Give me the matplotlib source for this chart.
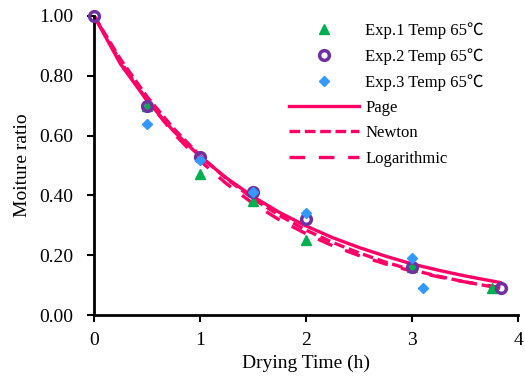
import matplotlib
matplotlib.use("Agg")
import matplotlib.pyplot as plt

plt.rcParams['font.family'] = ['Liberation Serif', 'Noto Sans CJK SC', 'DejaVu Sans']

# experimental points
t_exp1 = [0.5, 1, 1.5, 2, 3, 3.75]
mr_exp1 = [0.70, 0.47, 0.38, 0.25, 0.16, 0.09]
t_exp2 = [0, 0.5, 1, 1.5, 2, 3, 3.84]
mr_exp2 = [1.0, 0.70, 0.53, 0.41, 0.32, 0.16, 0.09]
t_exp3 = [0.5, 1, 1.5, 2, 3, 3.1]
mr_exp3 = [0.64, 0.52, 0.41, 0.34, 0.19, 0.09]

# model curves
t_model = [0, 0.25, 0.5, 0.75, 1, 1.25, 1.5, 1.75, 2, 2.25, 2.5, 2.75, 3, 3.25, 3.5, 3.83]
mr_page = [1.0, 0.839, 0.717, 0.615, 0.530, 0.458, 0.396, 0.343, 0.298, 0.259,
           0.226, 0.197, 0.171, 0.150, 0.131, 0.109]
mr_newton = [1.0, 0.855, 0.730, 0.624, 0.533, 0.456, 0.389, 0.333, 0.284, 0.243,
             0.208, 0.177, 0.151, 0.130, 0.111, 0.090]
mr_log = [1.0, 0.847, 0.718, 0.608, 0.516, 0.439, 0.373, 0.318, 0.272, 0.232,
          0.199, 0.171, 0.147, 0.128, 0.111, 0.093]

pink = '#FF0066'

fig = plt.figure(figsize=(5.25, 3.77), dpi=100)
ax = fig.add_axes([0.179, 0.164, 0.808, 0.794])

ax.plot(t_exp1, mr_exp1, '^', color='#00B050', ms=7.5, ls='none', label='Exp.1 Temp 65℃',
        zorder=3, clip_on=False)
ax.plot(t_exp2, mr_exp2, 'o', mfc='none', mec='#7030A0', mew=2.5, ms=7, ls='none',
        label='Exp.2 Temp 65℃', zorder=3, clip_on=False)
ax.plot(t_exp3, mr_exp3, 'D', color='#3399FF', mfc='#3399FF', ms=5.5, ls='none',
        label='Exp.3 Temp 65℃', zorder=4, clip_on=False)
ax.plot(t_model, mr_page, color=pink, lw=2.4, label='Page', zorder=2)
ax.plot(t_model, mr_newton, color=pink, lw=2.4, dashes=(3.2, 1.4), label='Newton', zorder=2)
ax.plot(t_model, mr_log, color=pink, lw=2.4, dashes=(4.7, 4.1), label='Logarithmic', zorder=2)

ax.set_xlim(0, 4)
ax.set_ylim(0, 1.0)
ax.set_xticks([0, 1, 2, 3, 4])
ax.set_yticks([0, 0.2, 0.4, 0.6, 0.8, 1.0])
ax.set_yticklabels(['%.2f' % v for v in [0, 0.2, 0.4, 0.6, 0.8, 1.0]])
ax.tick_params(direction='out', length=5, width=1.5, labelsize=14)
ax.tick_params(axis='y', pad=10)
ax.tick_params(axis='x', pad=7)
for s in ['top', 'right']:
    ax.spines[s].set_visible(False)
for s in ['left', 'bottom']:
    ax.spines[s].set_linewidth(2)

ax.set_xlabel('Drying Time (h)', fontsize=14, labelpad=4)
ax.set_ylabel('Moiture ratio', fontsize=14, labelpad=6)

ax.legend(loc='upper right', bbox_to_anchor=(0.955, 1.03), frameon=False, fontsize=12,
          handlelength=4.2, labelspacing=0.56, handletextpad=0.4, borderpad=0.4)

fig.savefig('out.png', dpi=100)
